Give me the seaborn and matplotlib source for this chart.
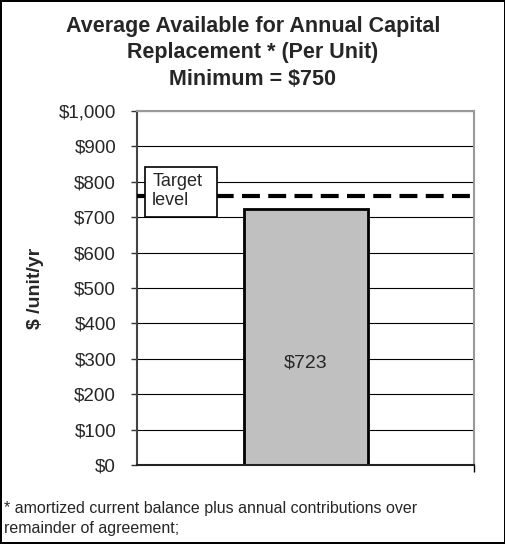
import matplotlib
matplotlib.use("Agg")
import matplotlib.pyplot as plt
import matplotlib.transforms as mtransforms
from matplotlib.patches import Rectangle
import seaborn as sns
import pandas as pd
from matplotlib.ticker import FuncFormatter, MultipleLocator

# data
categories = [""]
values = [723]
target = 760
bar_labels = ["$723"]
title_lines = ["Average Available for Annual Capital",
               "Replacement * (Per Unit)",
               "Minimum = $750"]
footnote_lines = ["* amortized current balance plus annual contributions over",
                  "remainder of agreement;"]

sns.set_theme(style="white")
plt.rcParams['font.family'] = ['Liberation Sans', 'DejaVu Sans']

df = pd.DataFrame({"cat": categories, "val": values})

fig = plt.figure(figsize=(5.06, 5.44), dpi=100)
fig.patch.set_edgecolor("black")
fig.patch.set_linewidth(1.5)
ax = fig.add_axes([0.2708, 0.1452, 0.666, 0.651])

ax.yaxis.grid(True, color="black", linewidth=0.8)
ax.set_axisbelow(True)
sns.barplot(data=df, x="cat", y="val", ax=ax, width=0.368, color="#c0c0c0",
            edgecolor="black", linewidth=2, saturation=1)

ax.axhline(target, color="black", linestyle=(0, (4.3, 2.0)), linewidth=3, zorder=3)

for p, lab in zip(ax.patches, bar_labels):
    ax.text(p.get_x() + p.get_width() / 2, p.get_height() * 0.4, lab,
            ha="center", va="center", fontsize=14, zorder=4)

# "Target level" box: axes x, data y
trans = mtransforms.blended_transform_factory(ax.transAxes, ax.transData)
ax.add_patch(Rectangle((0.024, 700), 0.213, 142, transform=trans, facecolor="white",
                       edgecolor="black", linewidth=1.2, zorder=5))
ax.text(0.045, 773, "Target\nlevel", transform=trans, fontsize=13,
        ha="left", va="center", linespacing=1.15, zorder=6)

ax.set_ylim(0, 1000)
ax.set_xlim(-0.5, 0.5)
ax.yaxis.set_major_locator(MultipleLocator(100))
ax.yaxis.set_major_formatter(FuncFormatter(lambda v, _: f"${v:,.0f}"))
ax.tick_params(axis="y", length=4, width=1, color="#333333", direction="out",
               labelsize=13.5, pad=11, left=True)
ax.set_xticks([0.5])
ax.set_xticklabels([""])
ax.tick_params(axis="x", length=5, width=1, color="black", direction="out", bottom=True)

for side in ["top", "right"]:
    ax.spines[side].set_color("#999999")
    ax.spines[side].set_linewidth(1.5)
ax.spines["left"].set_color("#444444")
ax.spines["left"].set_linewidth(1.5)
ax.spines["bottom"].set_color("#222222")
ax.spines["bottom"].set_linewidth(1.5)

ax.set_xlabel("")
ax.set_ylabel("$ /unit/yr", fontsize=14, fontweight="bold")
ax.yaxis.set_label_coords(-0.276, 0.5)

for y, line in zip([0.952, 0.903, 0.853], title_lines):
    fig.text(0.5, y, line, ha="center", va="center", fontsize=15.5, fontweight="bold")

for y, line in zip([0.066, 0.029], footnote_lines):
    fig.text(0.008, y, line, ha="left", va="center", fontsize=11.5)

fig.savefig("out.png", dpi=100)
